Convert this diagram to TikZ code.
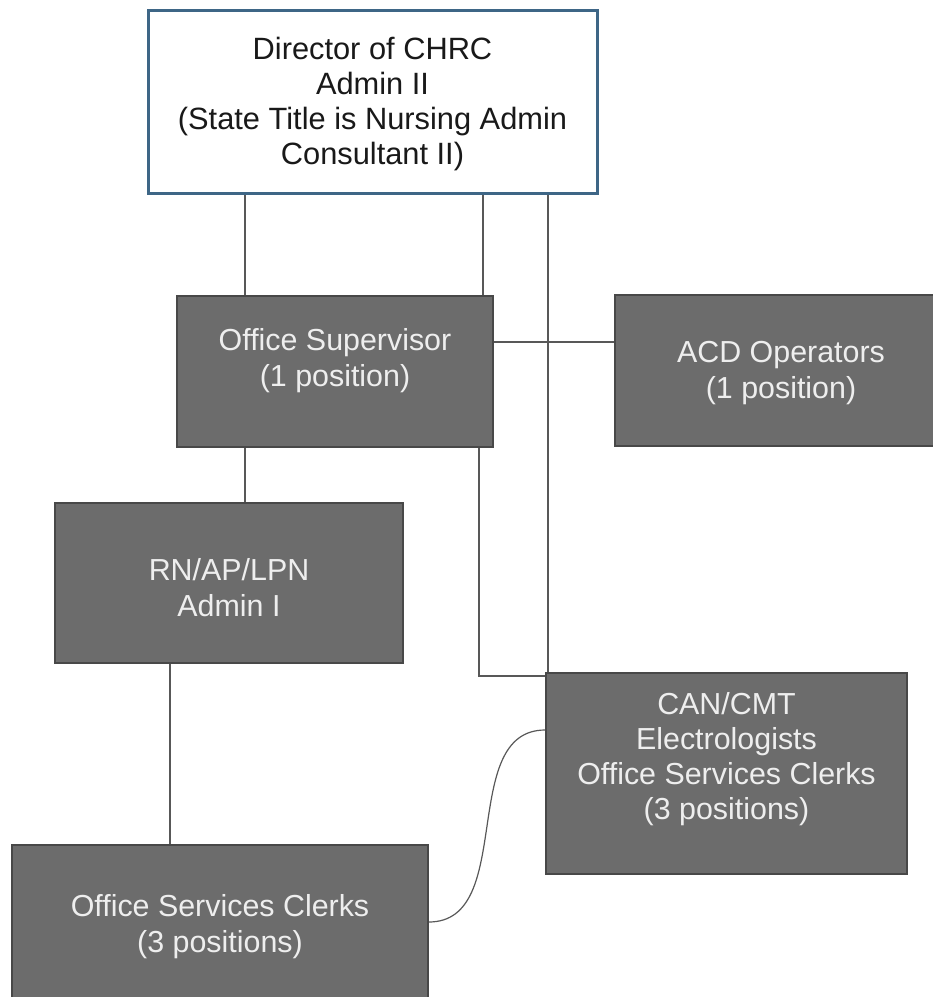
\documentclass[tikz,border=0pt]{standalone}
\usepackage{fontspec}
\setmainfont{Liberation Sans}
\usetikzlibrary{calc}

\definecolor{dirblue}{RGB}{62,102,134}
\definecolor{boxgray}{RGB}{108,108,108}
\definecolor{boxedge}{RGB}{72,72,72}
\definecolor{wirecol}{RGB}{88,88,88}
\definecolor{boxtext}{RGB}{238,238,238}

\begin{document}
\begin{tikzpicture}[x=1pt,y=-1pt,
  dirbox/.style={rectangle, draw=dirblue, line width=3pt, fill=white, inner sep=0pt},
  posbox/.style={rectangle, draw=boxedge, line width=1.6pt, fill=boxgray, inner sep=0pt},
  dirtext/.style={font=\fontsize{30.8}{35}\selectfont, align=center, text=black!90, inner sep=0pt},
  postext/.style={font=\fontsize{30.4}{36}\selectfont, align=center, text=boxtext, inner sep=0pt},
  link/.style={draw=wirecol, line width=1.2pt}]

\useasboundingbox (0,0) rectangle (933,997);
\clip (0,0) rectangle (933,997);
\fill[white] (0,0) rectangle (933,997);

% connectors (drawn first, boxes sit on top)
\coordinate (elbow) at (548,676);
\draw[link] (245,0 |- 0,190) -- (245,0 |- 0,300);
\draw[link] (483,0 |- 0,190) -- (483,0 |- 0,300);
\draw[link] (548,0 |- 0,190) -- (548,0 |- 0,675);
\draw[link] (490,342) -- (618,342);
\draw[link] (245,0 |- 0,445) -- (245,0 |- 0,505);
\draw[link] (479,0 |- 0,445) |- (elbow);
\draw[link] (170,0 |- 0,660) -- (170,0 |- 0,848);

% boxes
\node[dirbox, minimum width=449pt, minimum height=183pt] (dir) at (372.5,101.5) {};
\node[posbox, minimum width=316pt, minimum height=151pt] (os)  at (335,371.5) {};
\node[posbox, minimum width=332pt, minimum height=151pt] (acd) at (781,370.5) {};
\node[posbox, minimum width=348pt, minimum height=160pt] (rn)  at (229,583) {};
\node[posbox, minimum width=361pt, minimum height=201pt] (can) at (726.5,773.5) {};
\node[posbox, minimum width=416pt, minimum height=164pt] (osc) at (220,927) {};

% S-shaped link between the two clerk boxes
\draw[link] (osc.east |- 0,922) to[out=0,in=180] (can.west |- 0,730);

% labels
\node[dirtext] (dirT) at (372.5,104) {Director of CHRC\\Admin II\\(State Title is Nursing Admin\\Consultant II)};
\node[postext] (osT)  at (335,361) {Office Supervisor\\(1 position)};
\node[postext] (acdT) at (781,373) {ACD Operators\\(1 position)};
\node[postext] (rnT)  at (229,588) {RN/AP/LPN\\Admin I};
\node[postext, font=\fontsize{30.4}{35}\selectfont] (canT) at (726.5,759) {CAN/CMT\\Electrologists\\Office Services Clerks\\(3 positions)};
\node[postext] (oscT) at (220,927) {Office Services Clerks\\(3 positions)};
\end{tikzpicture}
\end{document}
